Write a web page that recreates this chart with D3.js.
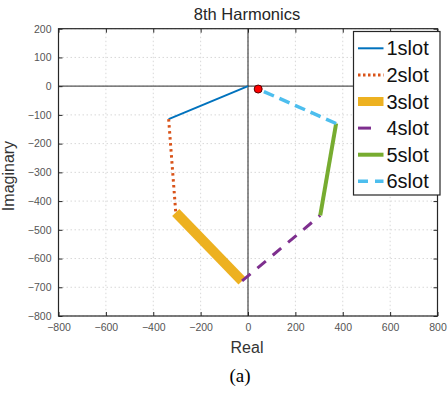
<!DOCTYPE html>
<html>
<head>
<meta charset="utf-8">
<script src="https://cdn.jsdelivr.net/npm/d3@7"></script>
<style>
  html, body { margin: 0; padding: 0; background: #fff; }
  svg { display: block; }
</style>
</head>
<body>
<svg id="chart" width="448" height="393"></svg>
<script>
// Phasor segments for each slot: [startReal, startImag] -> [endReal, endImag]
const slotNames = ["1slot", "2slot", "3slot", "4slot", "5slot", "6slot"];
const segStart = [[0, 0], [-335, -115], [-305, -440], [-25, -678], [305, -450], [372, -130]];
const segEnd   = [[-335, -115], [-305, -440], [-25, -678], [305, -450], [372, -130], [43, -10]];
// Resultant phasor tip
const resultant = [43, -10];

const xTicks = [-800, -600, -400, -200, 0, 200, 400, 600, 800];
const yTicks = [200, 100, 0, -100, -200, -300, -400, -500, -600, -700, -800];

// Line styling per slot
const styles = [
  { color: "#0072BD", width: 2,   dash: null,      legendDash: null },
  { color: "#D95319", width: 3,   dash: "2.5,3.5", legendDash: "2.5,2.5" },
  { color: "#EDB120", width: 10,  dash: null,      legendDash: null },
  { color: "#7E2F8E", width: 3,   dash: "11,9",    legendDash: "13,30" },
  { color: "#77AC30", width: 4,   dash: null,      legendDash: null },
  { color: "#4DBEEE", width: 3.5, dash: "11,6",    legendDash: "10,7" }
];

const svg = d3.select("#chart");
const L = 58.5, R = 437.5, T = 28.7, B = 316;
const x = d3.scaleLinear().domain([-800, 800]).range([L, R]);
const y = d3.scaleLinear().domain([-800, 200]).range([B, T]);

// dotted grid
const grid = svg.append("g");
grid.selectAll("line.gx").data(xTicks).join("line")
  .attr("x1", d => x(d)).attr("x2", d => x(d))
  .attr("y1", T).attr("y2", B)
  .attr("stroke", "#d8d8d8").attr("stroke-width", 1).attr("stroke-dasharray", "1.5,2.5");
grid.selectAll("line.gy").data(yTicks).join("line")
  .attr("y1", d => y(d)).attr("y2", d => y(d))
  .attr("x1", L).attr("x2", R)
  .attr("stroke", "#d8d8d8").attr("stroke-width", 1).attr("stroke-dasharray", "1.5,2.5");

// zero axes
svg.append("line").attr("x1", L).attr("x2", R).attr("y1", y(0)).attr("y2", y(0))
  .attr("stroke", "#555").attr("stroke-width", 1.4);
svg.append("line").attr("x1", x(0)).attr("x2", x(0)).attr("y1", T).attr("y2", B)
  .attr("stroke", "#222").attr("stroke-width", 1);

// axes with inward ticks
const axisStyle = g => {
  g.select(".domain").remove();
  g.selectAll(".tick line").attr("stroke", "#262626");
  g.selectAll(".tick text").attr("fill", "#555").attr("font-size", "10.5px")
    .attr("font-family", "'Liberation Sans', Arial, sans-serif");
};
svg.append("g").attr("transform", `translate(0,${B})`)
  .call(d3.axisBottom(x).tickValues(xTicks).tickSize(-4).tickPadding(8).tickFormat(d3.format("d")))
  .call(axisStyle);
svg.append("g").attr("transform", `translate(0,${T})`)
  .call(d3.axisTop(x).tickValues(xTicks).tickSize(-4).tickFormat(""))
  .call(axisStyle);
svg.append("g").attr("transform", `translate(${L},0)`)
  .call(d3.axisLeft(y).tickValues(yTicks).tickSize(-4).tickPadding(7).tickFormat(d3.format("d")))
  .call(axisStyle);
svg.append("g").attr("transform", `translate(${R},0)`)
  .call(d3.axisRight(y).tickValues(yTicks).tickSize(-4).tickFormat(""))
  .call(axisStyle);

// plot frame
svg.append("rect").attr("x", L).attr("y", T).attr("width", R - L).attr("height", B - T)
  .attr("fill", "none").attr("stroke", "#262626").attr("stroke-width", 1.2);

// slot segments
const segs = svg.append("g");
slotNames.forEach((name, i) => {
  const s = styles[i];
  segs.append("line")
    .attr("x1", x(segStart[i][0])).attr("y1", y(segStart[i][1]))
    .attr("x2", x(segEnd[i][0])).attr("y2", y(segEnd[i][1]))
    .attr("stroke", s.color).attr("stroke-width", s.width)
    .attr("stroke-dasharray", s.dash);
});

// resultant marker
svg.append("circle").attr("cx", x(resultant[0])).attr("cy", y(resultant[1])).attr("r", 4)
  .attr("fill", "#ff0000").attr("stroke", "#5a0000").attr("stroke-width", 1);

// legend
const lg = svg.append("g");
lg.append("rect").attr("x", 353.5).attr("y", 31.5).attr("width", 86.5).attr("height", 163.5)
  .attr("fill", "#fff").attr("stroke", "#262626").attr("stroke-width", 1.2);
slotNames.forEach((name, i) => {
  const s = styles[i];
  const cy = 48.3 + i * 26.6;
  lg.append("line").attr("x1", 358).attr("x2", 383.5).attr("y1", cy).attr("y2", cy)
    .attr("stroke", s.color).attr("stroke-width", i === 2 ? 9 : s.width)
    .attr("stroke-dasharray", s.legendDash);
  lg.append("text").attr("x", 386.5).attr("y", cy + 7).text(name)
    .attr("font-family", "'Liberation Sans', Arial, sans-serif").attr("font-size", "20px")
    .attr("fill", "#111");
});

// titles
svg.append("text").attr("x", 247).attr("y", 20).attr("text-anchor", "middle")
  .attr("font-family", "'Liberation Sans', Arial, sans-serif").attr("font-size", "16.5px")
  .attr("fill", "#262626").text("8th Harmonics");
svg.append("text").attr("x", 247).attr("y", 353).attr("text-anchor", "middle")
  .attr("font-family", "'Liberation Sans', Arial, sans-serif").attr("font-size", "16px")
  .attr("fill", "#333").text("Real");
svg.append("text").attr("transform", "translate(13.5,176) rotate(-90)").attr("text-anchor", "middle")
  .attr("font-family", "'Liberation Sans', Arial, sans-serif").attr("font-size", "16px")
  .attr("fill", "#333").text("Imaginary");
svg.append("text").attr("x", 240).attr("y", 382).attr("text-anchor", "middle")
  .attr("font-family", "'Liberation Serif', 'Times New Roman', serif").attr("font-size", "19px")
  .attr("fill", "#000").text("(a)");
</script>
</body>
</html>
